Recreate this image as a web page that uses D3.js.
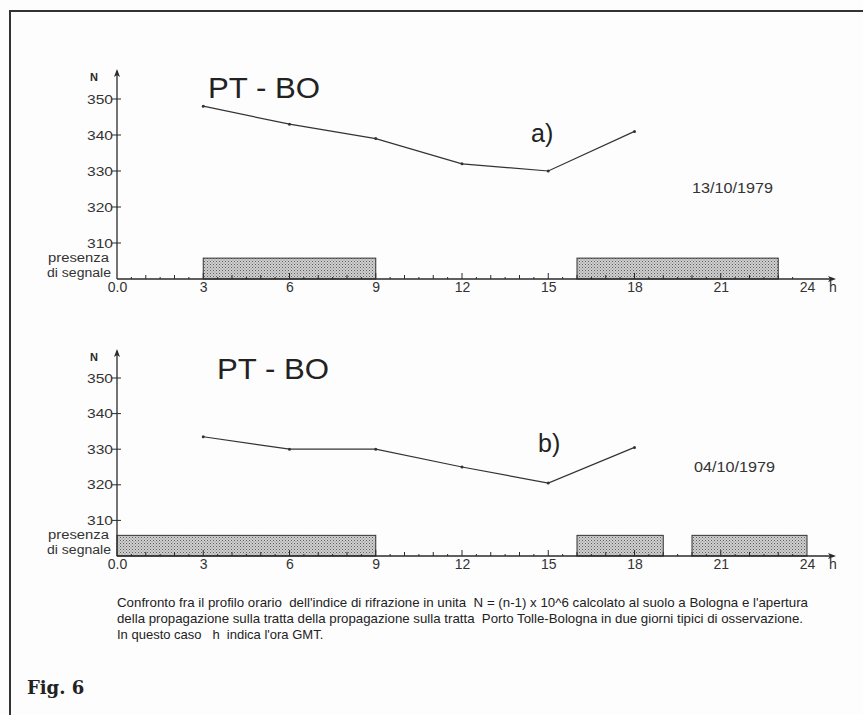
<!DOCTYPE html>
<html><head><meta charset="utf-8">
<script src="https://cdn.jsdelivr.net/npm/d3@7"></script>
<style>html,body{margin:0;padding:0;background:#fff;}svg{display:block;}</style>
</head><body>
<script>
// ---- data ----
const hours = [3, 6, 9, 12, 15, 18];
const nA = [348, 343, 339, 332, 330, 341];
const nB = [333.5, 330, 330, 325, 320.5, 330.5];
const signalA = [[3, 9], [16, 23]];
const signalB = [[0, 9], [16, 19], [20, 24]];
const yTicks = [310, 320, 330, 340, 350];
const xTicks = [0, 3, 6, 9, 12, 15, 18, 21, 24];
const xTickLabels = ["0.0", "3", "6", "9", "12", "15", "18", "21", "24"];
const titleText = "PT - BO";
const panelLabels = ["a)", "b)"];
const dates = ["13/10/1979", "04/10/1979"];
const caption = [
  "Confronto fra il profilo orario  dell'indice di rifrazione in unita  N = (n-1) x 10^6 calcolato al suolo a Bologna e l'apertura",
  "della propagazione sulla tratta della propagazione sulla tratta  Porto Tolle-Bologna in due giorni tipici di osservazione.",
  "In questo caso   h  indica l'ora GMT."
];
const captionWidths = [691, 686, null];

const W = 863, H = 715;
const ink = "#2a2a2a";
const sans = "'Liberation Sans',Arial,sans-serif";

const svg = d3.select("body").append("svg").attr("width", W).attr("height", H);
svg.append("rect").attr("width", W).attr("height", H).attr("fill", "#fdfdfd");

// stipple pattern
const defs = svg.append("defs");
const pat = defs.append("pattern").attr("id", "stip").attr("patternUnits", "userSpaceOnUse")
  .attr("width", 3).attr("height", 3);
pat.append("rect").attr("width", 3).attr("height", 3).attr("fill", "#cfcfcf");
pat.append("rect").attr("x", 0).attr("y", 0).attr("width", 1).attr("height", 1).attr("fill", "#5e5e5e");
pat.append("rect").attr("x", 1.5).attr("y", 1.5).attr("width", 1).attr("height", 1).attr("fill", "#808080");

// frame
svg.append("path").attr("d", `M10,${H} L10,11 L${W},11`).attr("fill", "none")
  .attr("stroke", "#333").attr("stroke-width", 2);

function styled(sel, size) {
  return sel.attr("font-family", sans).attr("font-size", size).attr("fill", "#333");
}

function panel(cfg) {
  const x = d3.scaleLinear().domain([0, 24]).range([117, 807]);
  const y = d3.scaleLinear().domain([300, 350]).range([cfg.y0, cfg.y350]);
  const g = svg.append("g");
  const axisY = y(300);

  // signal bars
  g.selectAll("rect.sig").data(cfg.signal).join("rect").attr("class", "sig")
    .attr("x", d => x(d[0])).attr("width", d => x(d[1]) - x(d[0]))
    .attr("y", y(305.8)).attr("height", axisY - y(305.8))
    .attr("fill", "url(#stip)").attr("stroke", "#333").attr("stroke-width", 1);

  // axes lines
  g.append("line").attr("x1", x(0)).attr("x2", 834).attr("y1", axisY).attr("y2", axisY)
    .attr("stroke", ink).attr("stroke-width", 1.3);
  g.append("path").attr("d", `M836,${axisY} l-8,-3 l2,3 l-2,3 z`).attr("fill", ink);
  g.append("line").attr("x1", x(0)).attr("x2", x(0)).attr("y1", axisY).attr("y2", cfg.yTop + 2)
    .attr("stroke", ink).attr("stroke-width", 1.3);
  g.append("path").attr("d", `M${x(0)},${cfg.yTop} l-3,8 l3,-2 l3,2 z`).attr("fill", ink);

  // y ticks
  const yAxis = d3.axisLeft(y).tickValues(yTicks).tickSize(0).tickPadding(5);
  const ya = g.append("g").attr("transform", `translate(${x(0)},0)`).call(yAxis);
  ya.select(".domain").remove();
  styled(ya.selectAll("text"), 13).attr("dx", 1).attr("textLength", 26).attr("lengthAdjust", "spacingAndGlyphs");
  g.selectAll("line.yt").data(yTicks).join("line").attr("class", "yt")
    .attr("x1", x(0) - 5).attr("x2", x(0) + 4).attr("y1", d => y(d)).attr("y2", d => y(d))
    .attr("stroke", ink).attr("stroke-width", 1);

  // x ticks (hour ticks and half-hour dots)
  const hrs = d3.range(1, 24);
  g.selectAll("line.xt").data(hrs).join("line").attr("class", "xt")
    .attr("x1", d => x(d)).attr("x2", d => x(d))
    .attr("y1", axisY).attr("y2", d => axisY - (d % 3 === 0 ? 6 : 4))
    .attr("stroke", ink).attr("stroke-width", 1);
  g.selectAll("line.xh").data(d3.range(0.5, 24, 1)).join("line").attr("class", "xh")
    .attr("x1", d => x(d)).attr("x2", d => x(d)).attr("y1", axisY).attr("y2", axisY - 2)
    .attr("stroke", ink).attr("stroke-width", 1);

  const xAxis = d3.axisBottom(x).tickValues(xTicks).tickSize(0).tickPadding(0)
    .tickFormat((d, i) => xTickLabels[i]);
  const xa = g.append("g").attr("transform", `translate(0,${axisY + 3})`).call(xAxis);
  xa.select(".domain").remove();
  styled(xa.selectAll("text"), 14);
  styled(g.append("text").attr("x", 829).attr("y", axisY + 13), 14).text("h");

  // labels
  g.append("text").attr("x", x(0) - 27).attr("y", cfg.yTop + 12).attr("font-family", sans)
    .attr("font-weight", "bold").attr("font-size", 11).attr("fill", ink).text("N");
  styled(g.append("text").attr("x", 48).attr("y", axisY - 17), 12)
    .attr("textLength", 61).attr("lengthAdjust", "spacingAndGlyphs").text("presenza");
  styled(g.append("text").attr("x", 47).attr("y", axisY - 2), 12)
    .attr("textLength", 64).attr("lengthAdjust", "spacingAndGlyphs").text("di segnale");

  g.append("text").attr("x", cfg.titleX).attr("y", cfg.titleY).attr("font-family", sans)
    .attr("font-size", 30).attr("fill", "#222").attr("textLength", 112).attr("lengthAdjust", "spacingAndGlyphs")
    .text(titleText);
  g.append("text").attr("x", cfg.lblX).attr("y", cfg.lblY).attr("font-family", sans)
    .attr("font-size", 25).attr("fill", "#222").text(cfg.label);
  styled(g.append("text").attr("x", cfg.dateX).attr("y", cfg.dateY), 15)
    .attr("textLength", 81).attr("lengthAdjust", "spacingAndGlyphs").text(cfg.date);

  // data line
  const pts = hours.map((h, i) => [h, cfg.values[i]]);
  g.append("path").datum(pts).attr("fill", "none").attr("stroke", "#333").attr("stroke-width", 1.2)
    .attr("d", d3.line().x(d => x(d[0])).y(d => y(d[1])));
  g.selectAll("circle.pt").data(pts).join("circle").attr("class", "pt")
    .attr("cx", d => x(d[0])).attr("cy", d => y(d[1])).attr("r", 1.5).attr("fill", "#333");
}

panel({ y0: 279, y350: 99, yTop: 69, values: nA, signal: signalA, label: panelLabels[0], date: dates[0],
  titleX: 208, titleY: 98, lblX: 531, lblY: 142, dateX: 692, dateY: 193 });
panel({ y0: 556, y350: 378, yTop: 349, values: nB, signal: signalB, label: panelLabels[1], date: dates[1],
  titleX: 217, titleY: 379, lblX: 538, lblY: 452, dateX: 694, dateY: 472 });

// caption
const cap = svg.append("g");
cap.selectAll("text").data(caption).join("text")
  .attr("x", 117).attr("y", (d, i) => 607 + i * 16)
  .attr("font-family", sans).attr("font-size", 13).attr("fill", "#222")
  .each(function (d, i) {
    if (captionWidths[i]) d3.select(this).attr("textLength", captionWidths[i]).attr("lengthAdjust", "spacingAndGlyphs");
  })
  .style("white-space", "pre")
  .text(d => d);

svg.append("text").attr("x", 27).attr("y", 694).attr("font-family", "'DejaVu Serif',serif")
  .attr("font-weight", "bold").attr("font-size", 18).attr("fill", "#222").text("Fig. 6");
</script>
</body></html>
